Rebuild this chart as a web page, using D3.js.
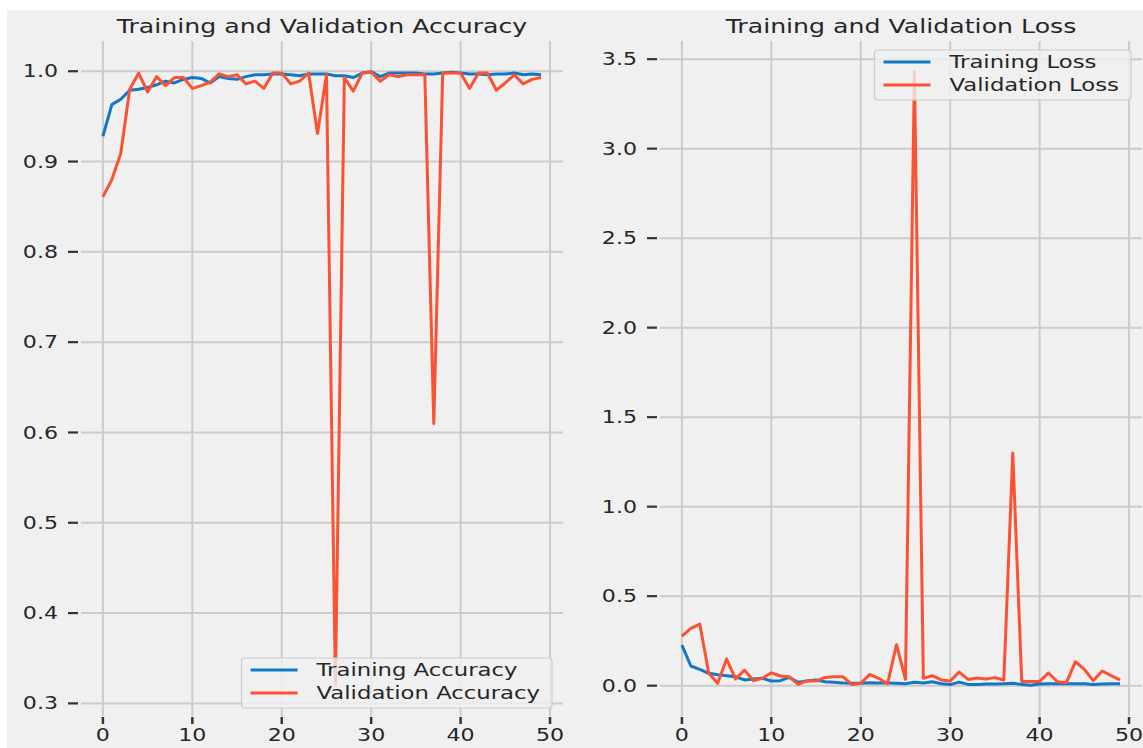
<!DOCTYPE html>
<html>
<head>
<meta charset="utf-8">
<script src="https://cdn.jsdelivr.net/npm/d3@7"></script>
<style>
  html, body { margin: 0; padding: 0; background: #ffffff; }
  svg { display: block; }
  text { font-family: "DejaVu Sans", sans-serif; fill: #262626; }
</style>
</head>
<body>
<svg id="chart" width="1143" height="748"></svg>
<script>
// ---------------- data ----------------
const epochs = d3.range(50);

const trainAcc = [0.928, 0.963, 0.969, 0.979, 0.980, 0.982, 0.985, 0.989, 0.987, 0.991,
                  0.993, 0.992, 0.987, 0.994, 0.992, 0.991, 0.994, 0.996, 0.996, 0.997,
                  0.997, 0.996, 0.995, 0.997, 0.997, 0.997, 0.995, 0.995, 0.993, 0.998,
                  0.9995, 0.994, 0.998, 0.998, 0.998, 0.998, 0.997, 0.997, 0.998, 0.999,
                  0.998, 0.997, 0.997, 0.996, 0.997, 0.997, 0.998, 0.996, 0.997, 0.996];

const valAcc = [0.861, 0.880, 0.909, 0.980, 0.998, 0.977, 0.994, 0.984, 0.993, 0.993,
                0.981, 0.984, 0.988, 0.997, 0.994, 0.996, 0.986, 0.989, 0.981, 0.998,
                0.998, 0.986, 0.989, 0.998, 0.931, 0.996, 0.320, 0.993, 0.978, 0.998,
                0.999, 0.989, 0.996, 0.994, 0.996, 0.996, 0.996, 0.610, 0.998, 0.998,
                0.998, 0.981, 0.998, 0.998, 0.979, 0.987, 0.996, 0.986, 0.991, 0.993];

const trainLoss = [0.227, 0.110, 0.091, 0.069, 0.061, 0.056, 0.050, 0.032, 0.037, 0.041,
                   0.026, 0.028, 0.046, 0.019, 0.026, 0.032, 0.022, 0.019, 0.015, 0.013,
                   0.013, 0.017, 0.015, 0.015, 0.013, 0.011, 0.019, 0.015, 0.022, 0.011,
                   0.006, 0.020, 0.007, 0.007, 0.009, 0.009, 0.011, 0.013, 0.007, 0.002,
                   0.009, 0.011, 0.011, 0.011, 0.011, 0.011, 0.007, 0.009, 0.011, 0.011];

const valLoss = [0.277, 0.320, 0.344, 0.069, 0.013, 0.149, 0.037, 0.087, 0.028, 0.041,
                 0.072, 0.054, 0.050, 0.007, 0.028, 0.026, 0.046, 0.050, 0.050, 0.007,
                 0.013, 0.063, 0.041, 0.011, 0.229, 0.035, 3.430, 0.041, 0.056, 0.032,
                 0.026, 0.076, 0.035, 0.043, 0.037, 0.045, 0.032, 1.300, 0.024, 0.024,
                 0.024, 0.071, 0.022, 0.017, 0.134, 0.091, 0.028, 0.082, 0.056, 0.032];

const xTicks = [0, 10, 20, 30, 40, 50];
const accTicks = [0.3, 0.4, 0.5, 0.6, 0.7, 0.8, 0.9, 1.0];
const lossTicks = [0.0, 0.5, 1.0, 1.5, 2.0, 2.5, 3.0, 3.5];

const panels = [
  { title: "Training and Validation Accuracy", train: trainAcc, val: valAcc,
    trainLabel: "Training Accuracy", valLabel: "Validation Accuracy",
    yTicks: accTicks, legend: "lower right" },
  { title: "Training and Validation Loss", train: trainLoss, val: valLoss,
    trainLabel: "Training Loss", valLabel: "Validation Loss",
    yTicks: lossTicks, legend: "upper right" }
];

// ---------------- layout ----------------
const W = 1143, H = 748;
const STRETCH = 1.3;            // horizontal stretch of the original image
const BLUE = "#1278c6", RED = "#fa5232", GRID = "#cbcbcb", BG = "#f0f0f0";
const boxes = [ { left: 81, right: 563 }, { left: 660, right: 1142 } ];
const TOP = 41, BOTTOM = 716;

const svg = d3.select("#chart");
svg.append("rect").attr("x", 7).attr("y", 10).attr("width", W - 7).attr("height", H - 10).attr("fill", BG);

function stretchText(sel) {
  sel.each(function () {
    const w = this.getComputedTextLength();
    this.setAttribute("textLength", w * STRETCH);
    this.setAttribute("lengthAdjust", "spacingAndGlyphs");
    this.__w = w * STRETCH;
  });
}

function padDomain(arr) {
  const [a, b] = d3.extent(arr);
  const m = (b - a) * 0.05;
  return [a - m, b + m];
}

panels.forEach((p, i) => {
  const box = boxes[i];
  const g = svg.append("g");
  const x = d3.scaleLinear().domain(padDomain(epochs)).range([box.left, box.right]);
  const y = d3.scaleLinear().domain(padDomain(p.train.concat(p.val))).range([BOTTOM, TOP]);

  // grid
  g.selectAll(".hg").data(p.yTicks).join("line")
    .attr("x1", box.left).attr("x2", box.right)
    .attr("y1", d => y(d)).attr("y2", d => y(d))
    .attr("stroke", GRID).attr("stroke-width", 2);
  g.selectAll(".vg").data(xTicks).join("line")
    .attr("x1", d => x(d)).attr("x2", d => x(d))
    .attr("y1", TOP).attr("y2", BOTTOM)
    .attr("stroke", GRID).attr("stroke-width", 2);

  // y ticks
  g.selectAll(".yt").data(p.yTicks).join("line")
    .attr("x1", box.left - 13).attr("x2", box.left - 3)
    .attr("y1", d => y(d)).attr("y2", d => y(d))
    .attr("stroke", "#333").attr("stroke-width", 2.2);
  g.selectAll(".yl").data(p.yTicks).join("text")
    .attr("x", box.left - 23).attr("y", d => y(d))
    .attr("dy", "0.36em").attr("text-anchor", "end")
    .attr("font-size", 17)
    .text(d => d3.format(".1f")(d))
    .call(stretchText);

  // x ticks
  g.selectAll(".xt").data(xTicks).join("line")
    .attr("x1", d => x(d)).attr("x2", d => x(d))
    .attr("y1", 717).attr("y2", 724)
    .attr("stroke", "#333").attr("stroke-width", 2.5);
  g.selectAll(".xl").data(xTicks).join("text")
    .attr("x", d => x(d)).attr("y", 741)
    .attr("text-anchor", "middle")
    .attr("font-size", 17)
    .text(d => d)
    .call(stretchText);

  // title
  g.append("text")
    .attr("x", (box.left + box.right) / 2).attr("y", 33)
    .attr("text-anchor", "middle").attr("font-size", 19.4)
    .text(p.title)
    .call(stretchText);

  // lines
  const line = vals => d3.line().x((d, j) => x(epochs[j])).y(d => y(d))(vals);
  g.append("path").attr("d", line(p.train)).attr("fill", "none")
    .attr("stroke", BLUE).attr("stroke-width", 3).attr("stroke-linejoin", "round");
  g.append("path").attr("d", line(p.val)).attr("fill", "none")
    .attr("stroke", RED).attr("stroke-width", 3).attr("stroke-linejoin", "round");

  // legend
  const lg = g.append("g");
  const rect = lg.append("rect");
  const items = [ { label: p.trainLabel, color: BLUE }, { label: p.valLabel, color: RED } ];
  let maxW = 0;
  const texts = [];
  items.forEach((it, k) => {
    const t = lg.append("text").attr("font-size", 17.5).attr("dy", "0.36em").text(it.label).call(stretchText);
    maxW = Math.max(maxW, t.node().__w);
    texts.push(t);
  });
  const lw = 75 + maxW + 12, lh = 50;
  const lx = box.right - 11 - lw;
  const ly = p.legend === "lower right" ? BOTTOM - 8 - lh : TOP + 9;
  rect.attr("x", lx).attr("y", ly).attr("width", lw).attr("height", lh)
    .attr("rx", 3).attr("fill", BG).attr("fill-opacity", 0.8)
    .attr("stroke", "#cccccc").attr("stroke-width", 1.2);
  items.forEach((it, k) => {
    const cy = ly + 12 + k * 23;
    lg.append("line").attr("x1", lx + 9).attr("x2", lx + 56).attr("y1", cy).attr("y2", cy)
      .attr("stroke", it.color).attr("stroke-width", 3);
    texts[k].attr("x", lx + 75).attr("y", cy);
  });
  lg.raise();
});
</script>
</body>
</html>
